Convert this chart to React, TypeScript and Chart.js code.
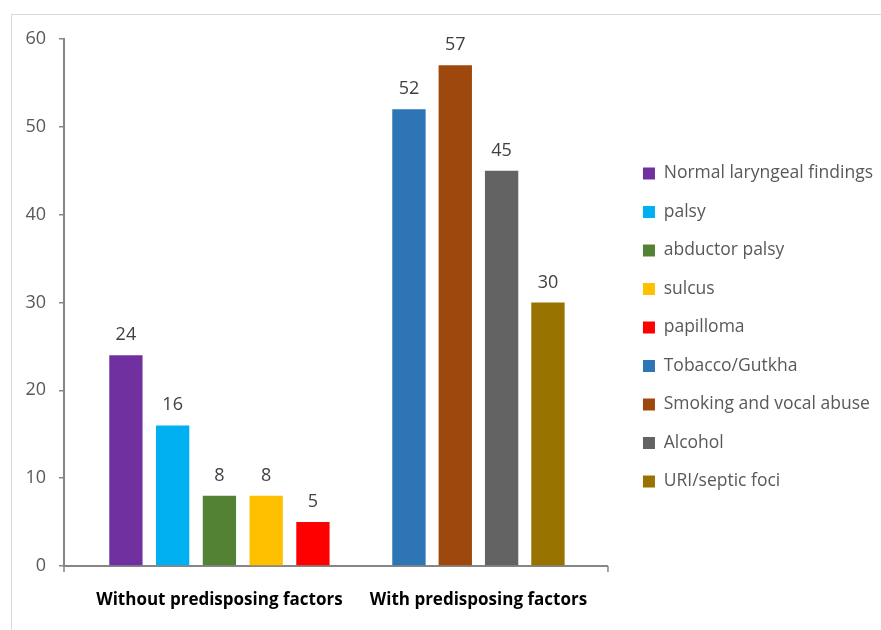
import React, { useEffect, useRef } from 'react';
import { Chart, registerables } from 'chart.js';

Chart.register(...registerables);

// ---- data ----
const categories = ['Without predisposing factors', 'With predisposing factors'];
const withoutNames = ['Normal laryngeal findings', 'palsy', 'abductor palsy', 'sulcus', 'papilloma'];
const withoutValues = [24, 16, 8, 8, 5];
const withNames = ['Tobacco/Gutkha', 'Smoking and vocal abuse', 'Alcohol', 'URI/septic foci'];
const withValues = [52, 57, 45, 30];
const yMin = 0;
const yMax = 60;
const yStep = 10;

// ---- styles ----
const withoutColors = ['#7030A0', '#00B0F0', '#548235', '#FFC000', '#FF0000'];
const withColors = ['#2E75B6', '#9E480E', '#636363', '#997300'];
const groupCategoryPct = [0.9025, 0.7155];
const groupBarPct = [0.712, 0.72];
const FONT = '"Open Sans", "DejaVu Sans", sans-serif';
const AXIS_GRAY = '#868686';

const groups = [
  { names: withoutNames, values: withoutValues, colors: withoutColors },
  { names: withNames, values: withValues, colors: withColors },
];

function buildDatasets() {
  const out: any[] = [];
  groups.forEach((g, gi) => {
    g.names.forEach((name, i) => {
      out.push({
        label: name,
        data: categories.map((_, c) => ({ x: c, y: c === gi ? g.values[i] : null })),
        backgroundColor: g.colors[i],
        borderWidth: 0,
        skipNull: true,
        categoryPercentage: groupCategoryPct[gi],
        barPercentage: groupBarPct[gi],
      });
    });
  });
  return out;
}

const valueLabels = {
  id: 'valueLabels',
  afterDatasetsDraw(chart: any) {
    const ctx = chart.ctx;
    ctx.save();
    ctx.font = `18px ${FONT}`;
    ctx.fillStyle = '#404040';
    ctx.textAlign = 'center';
    ctx.textBaseline = 'alphabetic';
    chart.data.datasets.forEach((ds: any, di: number) => {
      const meta = chart.getDatasetMeta(di);
      meta.data.forEach((el: any, i: number) => {
        const v = ds.data[i].y;
        if (v === null || v === undefined) return;
        ctx.fillText(String(v), el.x, el.y - 15);
      });
    });
    ctx.restore();
  },
};

const axisEndTicks = {
  id: 'axisEndTicks',
  afterDraw(chart: any) {
    const { ctx, chartArea } = chart;
    ctx.save();
    ctx.strokeStyle = AXIS_GRAY;
    ctx.lineWidth = 1.5;
    ctx.beginPath();
    [chartArea.left, chartArea.right].forEach((x: number) => {
      ctx.moveTo(x, chartArea.bottom);
      ctx.lineTo(x, chartArea.bottom + 6);
    });
    ctx.stroke();
    ctx.restore();
  },
};

export default function App() {
  const ref = useRef<HTMLCanvasElement | null>(null);

  useEffect(() => {
    if (!ref.current) return;
    const chart = new Chart(ref.current, {
      type: 'bar',
      data: { datasets: buildDatasets() },
      options: {
        responsive: false,
        animation: false,
        layout: { padding: { top: 39, bottom: 14, left: 0, right: -2 } },
        scales: {
          x: {
            type: 'linear',
            min: -0.6,
            max: 1.5,
            offset: false,
            afterBuildTicks: (s: any) => {
              s.ticks = categories.map((_, i) => ({ value: i }));
            },
            afterFit: (s: any) => {
              s.height = 50;
            },
            ticks: {
              autoSkip: false,
              maxRotation: 0,
              padding: 24,
              color: '#000000',
              font: { family: FONT, size: 17, weight: 'bold' },
              callback: (v: any) => categories[v] ?? '',
            },
            grid: { display: false, drawTicks: false },
            border: { display: true, color: AXIS_GRAY, width: 2 },
          },
          y: {
            type: 'linear',
            position: 'left',
            min: yMin,
            max: yMax,
            afterFit: (s: any) => {
              s.width = 64;
            },
            ticks: {
              stepSize: yStep,
              padding: 13,
              color: '#595959',
              font: { family: FONT, size: 18 },
            },
            grid: {
              drawOnChartArea: false,
              drawTicks: true,
              tickLength: 5,
              color: AXIS_GRAY,
              lineWidth: 1.5,
            },
            border: { display: true, color: AXIS_GRAY, width: 2 },
          },
          spacer: {
            type: 'linear',
            position: 'right',
            display: true,
            afterFit: (s: any) => {
              s.width = 14;
            },
            ticks: { display: false },
            grid: { display: false, drawTicks: false },
            border: { display: false },
          },
        },
        plugins: {
          legend: {
            position: 'right',
            align: 'center',
            maxWidth: 400,
            labels: {
              boxWidth: 12,
              boxHeight: 12,
              padding: 21,
              color: '#595959',
              font: { family: FONT, size: 17.5 },
            },
          },
          tooltip: { enabled: false },
        },
      } as any,
      plugins: [valueLabels, axisEndTicks],
    });
    return () => chart.destroy();
  }, []);

  return (
    <div
      style={{
        position: 'fixed',
        left: 0,
        top: 0,
        width: 881,
        height: 630,
        overflow: 'hidden',
        background: '#ffffff',
      }}
    >
      <div
        style={{
          position: 'absolute',
          left: 11,
          top: 14,
          width: 900,
          height: 700,
          borderTop: '1.5px solid #d9d9d9',
          borderLeft: '1.5px solid #d9d9d9',
          boxSizing: 'border-box',
        }}
      />
      <canvas
        ref={ref}
        width={881}
        height={630}
        style={{ position: 'absolute', left: 0, top: 0, width: 881, height: 630 }}
      />
    </div>
  );
}
